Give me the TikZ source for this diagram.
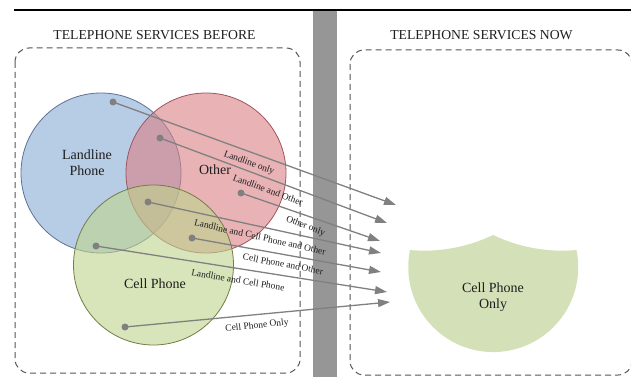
\documentclass[tikz,border=0pt]{standalone}
\usepackage{fontspec}
\setmainfont{Liberation Serif}
\usetikzlibrary{arrows.meta}

\definecolor{landfill}{RGB}{135,170,212}
\definecolor{landline}{RGB}{95,115,150}
\definecolor{otherfill}{RGB}{218,128,134}
\definecolor{otherline}{RGB}{160,85,95}
\definecolor{cellfill}{RGB}{190,212,140}
\definecolor{cellline}{RGB}{115,125,70}
\definecolor{onlyfill}{RGB}{212,224,184}
\definecolor{arrowgray}{RGB}{128,128,128}
\definecolor{bargray}{RGB}{150,150,150}
\definecolor{framegray}{RGB}{85,85,85}
\definecolor{ink}{RGB}{30,30,30}

\begin{document}
\begin{tikzpicture}[x=1pt, y=-1pt,
  frame/.style={draw=framegray, line width=1pt, dash pattern=on 6pt off 4pt, rounded corners=14pt},
  venn/.style={circle, minimum size=160pt, inner sep=0pt, fill opacity=0.6, line width=0.8pt},
  flow/.style={draw=arrowgray, line width=1.3pt, -{Triangle[length=12pt,width=8pt]}},
  pin/.style={circle, fill=arrowgray, inner sep=0pt, minimum size=7pt},
  lbl/.style={font=\fontsize{9.5}{10}\selectfont, text=ink, inner sep=0pt},
  heading/.style={font=\fontsize{13.7}{16}\selectfont, text=ink},
  setname/.style={font=\fontsize{14}{16}\selectfont, text=ink, align=center}]
\useasboundingbox (0,0) rectangle (631,377);

% rule across the top and the divider bar
\fill[bargray] (313,11) rectangle (337,377);
\draw[line width=2pt] (14,10) -- (631,10);

% headings and dashed panels
\node[heading] (hbefore) at (154.5,35.5) {TELEPHONE SERVICES BEFORE};
\node[heading] (hnow) at (481.5,35.5) {TELEPHONE SERVICES NOW};
\draw[frame] (15,48) rectangle (300,373);
\draw[frame] (350,50) rectangle (632,375);

% the cell-phone-only region on the right
\fill[onlyfill] (410,250)
  arc[start angle=191.6, end angle=-11.6, radius=85]
  arc[start angle=84.8, end angle=115.6, radius=159.6]
  arc[start angle=64.4, end angle=95.1, radius=159.6] -- cycle;
\node[setname] (only) at (493,297) {Cell Phone\\Only};

% three overlapping service sets
\node[venn, fill=landfill, draw=landline] (land) at (101,173) {};
\node[venn, fill=otherfill, draw=otherline] (other) at (206,173) {};
\node[venn, fill=cellfill, draw=cellline] (cell) at (153.5,265) {};
\node[setname] (landname) at (87,163) {Landline\\Phone};
\node[setname] (othername) at (215,170) {Other};
\node[setname] (cellname) at (155,284) {Cell Phone};

% markers in each region
\node[pin] (d1) at (113,102) {};
\node[pin] (d2) at (160,138) {};
\node[pin] (d3) at (241,193) {};
\node[pin] (d4) at (148,202) {};
\node[pin] (d5) at (192,238) {};
\node[pin] (d6) at (96,246) {};
\node[pin] (d7) at (125,327) {};

% arrow ends
\coordinate (t1) at (396,205);
\coordinate (t2) at (387,223);
\coordinate (t3) at (380,241);
\coordinate (t4) at (381,253);
\coordinate (t5) at (381,272);
\coordinate (t6) at (387,292);
\coordinate (t7) at (390,302);

\foreach \i in {1,...,7} {
  \draw[flow] (d\i.center) -- (t\i);
}

% region labels under their arrows
\node[lbl, rotate=-20] (l1) at (249,163) {Landline only};
\node[lbl, rotate=-20.5] (l2) at (268,190) {Landline and Other};
\node[lbl, rotate=-21] (l3) at (305.5,226.5) {Other only};
\node[lbl, rotate=-12.5] (l4) at (260,237) {Landline and Cell Phone and Other};
\node[lbl, rotate=-10.5] (l5) at (283,264) {Cell Phone and\,Other};
\node[lbl, rotate=-9.5] (l6) at (238,280) {Landline and Cell Phone};
\node[lbl, rotate=6] (l7) at (257,326) {Cell Phone Only};
\end{tikzpicture}
\end{document}
